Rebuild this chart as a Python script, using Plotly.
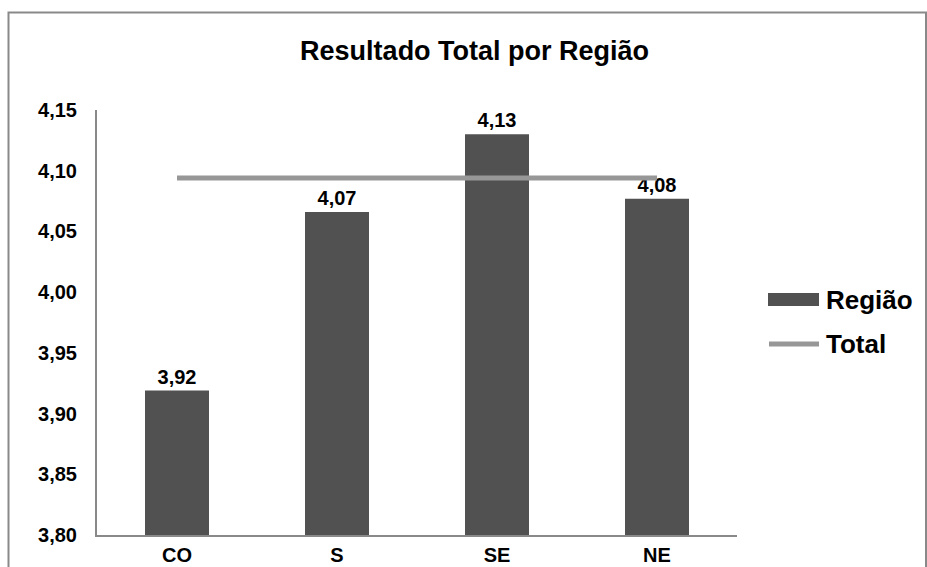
import plotly.graph_objects as go

categories = ["CO", "S", "SE", "NE"]
regiao_values = [3.919, 4.066, 4.130, 4.077]
total_value = 4.094
total_values = [total_value] * len(categories)
y_ticks = [3.80, 3.85, 3.90, 3.95, 4.00, 4.05, 4.10, 4.15]

FONT = "Liberation Sans, Arial, sans-serif"
BAR_COLOR = "#515151"
LINE_COLOR = "#979797"
AXIS_COLOR = "#898989"

W, H = 927, 567
L, R, T, B = 97, 190, 110, 32
PW, PH = W - L - R, H - T - B

def px_x(p):
    return (p - L) / PW

def px_y(p):
    return (H - B - p) / PH

fig = go.Figure()
fig.add_trace(go.Bar(
    x=categories, y=regiao_values, name="Região",
    marker=dict(color=BAR_COLOR, line=dict(width=0)),
    width=0.4,
    texttemplate="%{y:.2f}", textposition="outside",
    textfont=dict(family=FONT, size=20, color="black", weight="bold"),
    cliponaxis=False, showlegend=False,
))
fig.add_trace(go.Scatter(
    x=categories, y=total_values, name="Total", mode="lines",
    line=dict(color=LINE_COLOR, width=5), showlegend=False,
))

# outer chart border
fig.add_shape(type="rect", xref="paper", yref="paper",
              x0=px_x(8.5), x1=px_x(926), y0=px_y(575), y1=px_y(12.5),
              line=dict(color=AXIS_COLOR, width=2), layer="below")

# custom legend
fig.add_shape(type="rect", xref="paper", yref="paper",
              x0=px_x(768), x1=px_x(819), y0=px_y(306), y1=px_y(293),
              fillcolor=BAR_COLOR, line=dict(width=0))
fig.add_shape(type="line", xref="paper", yref="paper",
              x0=px_x(769), x1=px_x(819), y0=px_y(344), y1=px_y(344),
              line=dict(color=LINE_COLOR, width=5))
fig.add_annotation(xref="paper", yref="paper", x=px_x(824), y=px_y(299.5),
                   text="Região", showarrow=False, xanchor="left", yanchor="middle",
                   font=dict(family=FONT, size=26, color="black", weight="bold"))
fig.add_annotation(xref="paper", yref="paper", x=px_x(824), y=px_y(344),
                   text="Total", showarrow=False, xanchor="left", yanchor="middle",
                   font=dict(family=FONT, size=26, color="black", weight="bold"))

fig.update_layout(
    width=W, height=H,
    margin=dict(l=L, r=R, t=T, b=B, autoexpand=False),
    paper_bgcolor="white", plot_bgcolor="white",
    separators=",.",
    title=dict(text="Resultado Total por Região", x=0.512, xref="container",
               xanchor="center", y=1 - 51 / H, yref="container", yanchor="middle",
               font=dict(family=FONT, size=27, color="black", weight="bold")),
    showlegend=False,
    xaxis=dict(type="category", range=[-0.5, 3.5], showline=True, linecolor=AXIS_COLOR,
               linewidth=2, ticks="", showgrid=False,
               tickfont=dict(family=FONT, size=20, color="black", weight="bold"),
               ticklabelstandoff=1),
    yaxis=dict(range=[3.80, 4.15], tickvals=y_ticks, tickformat=".2f", showline=True,
               linecolor=AXIS_COLOR, linewidth=2, ticks="", showgrid=False, zeroline=False,
               tickfont=dict(family=FONT, size=20, color="black", weight="bold"),
               ticklabelstandoff=14),
)

fig.write_html("out.html")
